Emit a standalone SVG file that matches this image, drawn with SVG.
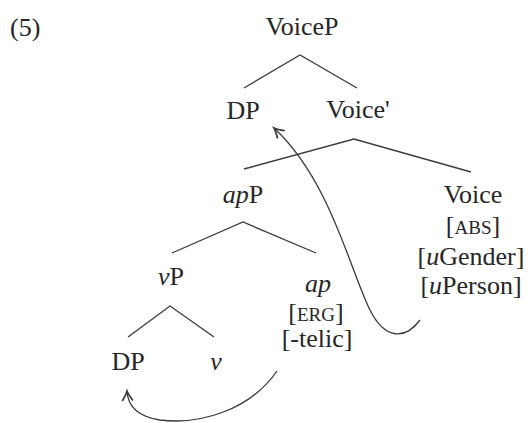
<svg xmlns="http://www.w3.org/2000/svg" width="528" height="423" viewBox="0 0 528 423">
<style>
text{font-family:"Liberation Serif","Times New Roman",serif;font-size:26px;fill:#262626;text-anchor:middle}
.it{font-style:italic}
.sc{font-size:19px}
.edge{stroke:#3a3a3a;stroke-width:1.3;fill:none}
.move{stroke:#3a3a3a;stroke-width:1.3;fill:none;marker-end:url(#ah)}
</style>
<defs>
<marker id="ah" markerUnits="userSpaceOnUse" markerWidth="14" markerHeight="14" viewBox="-8 -5 10 10" refX="0" refY="0" orient="auto">
<path d="M -7 -3.8 Q -2.5 -0.8 0 0 Q -2.5 0.8 -7 3.8" stroke="#3a3a3a" stroke-width="1.2" fill="none"/>
</marker>
</defs>
<text x="10" y="36" style="text-anchor:start">(5)</text>
<g id="n-VoiceP"><text x="302" y="35">VoiceP</text></g>
<g id="n-DP1"><text x="243" y="119">DP</text></g>
<g id="n-Voicebar"><text x="358" y="118">Voice'</text></g>
<g id="n-apP"><text x="243" y="203"><tspan class="it">ap</tspan>P</text></g>
<g id="n-Voice">
<text x="473" y="203">Voice</text>
<text x="473" y="234">[<tspan class="sc">ABS</tspan>]</text>
<text x="471" y="265">[<tspan class="it">u</tspan>Gender]</text>
<text x="471" y="294">[<tspan class="it">u</tspan>Person]</text>
</g>
<g id="n-vP"><text x="171" y="285"><tspan class="it">v</tspan>P</text></g>
<g id="n-ap">
<text x="318" y="292" class="it">ap</text>
<text x="316" y="321">[<tspan class="sc">ERG</tspan>]</text>
<text x="317" y="347">[-telic]</text>
</g>
<g id="n-DP2"><text x="128" y="370">DP</text></g>
<g id="n-v"><text x="216" y="370" class="it">v</text></g>
<g id="connectors">
<path class="edge" d="M244 88 L300 55 L357 88"/>
<path class="edge" d="M244 169 L354 139 L471 172"/>
<path class="edge" d="M172 253 L243 222 L316 253"/>
<path class="edge" d="M128 337 L170 306 L214 337"/>
<path class="move" d="M420 320 C405 340 385 340 370 310 C350 270 330 180 274 128"/>
<path class="move" d="M277 371 C250 410 200 425 160 420 C140 417 128 408 127 391"/>
</g>
</svg>
